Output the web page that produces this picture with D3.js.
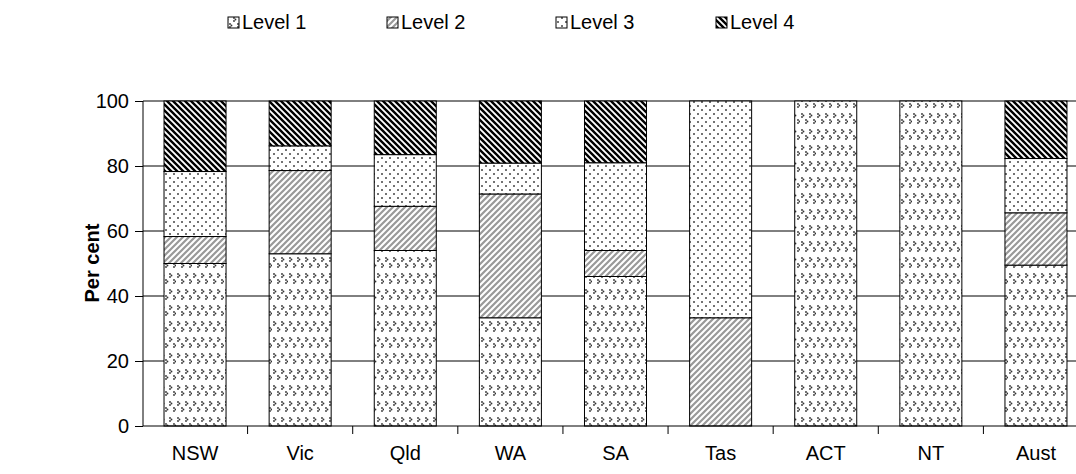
<!DOCTYPE html><html><head><script src="https://cdn.jsdelivr.net/npm/d3@7"></script>
<style>body{margin:0;background:#fff}text{font-family:Arial,"Liberation Sans",sans-serif}</style></head><body>
<svg id="c" width="1076" height="474"></svg>
<script>
const categories=["NSW","Vic","Qld","WA","SA","Tas","ACT","NT","Aust"];
const level1=[50,53,54,33.3,46,0,100,100,49.5];
const level2=[8.3,25.6,13.6,38.1,8,33.3,0,0,16.1];
const level3=[20,7.6,15.9,9.5,27,66.7,0,0,16.7];
const level4=[21.7,13.8,16.5,19.1,19,0,0,0,17.7];
const seriesNames=["Level 1","Level 2","Level 3","Level 4"];
const yTicks=[0,20,40,60,80,100];
const svg=d3.select("#c");
const defs=svg.append("defs");
let p=defs.append("pattern").attr("id","p0").attr("patternUnits","userSpaceOnUse").attr("width",16).attr("height",16);
p.append("rect").attr("width",16).attr("height",16).attr("fill","#fff");
[[2,2],[10,2],[6,8],[14,8]].forEach(([x,y])=>{p.append("circle").attr("cx",x).attr("cy",y).attr("r",0.9).attr("fill","#333");p.append("circle").attr("cx",x+1.5).attr("cy",y+1.5).attr("r",0.9).attr("fill","#333");p.append("circle").attr("cx",x).attr("cy",y+3).attr("r",0.9).attr("fill","#333");});
p=defs.append("pattern").attr("id","p1").attr("patternUnits","userSpaceOnUse").attr("width",6).attr("height",6);
p.append("rect").attr("width",6).attr("height",6).attr("fill","#fff");
p.append("path").attr("d","M-1,7L7,-1M-4,4L4,-4M2,10L10,2").attr("stroke","#999").attr("stroke-width",2.2);
p=defs.append("pattern").attr("id","p2").attr("patternUnits","userSpaceOnUse").attr("width",8).attr("height",8);
p.append("rect").attr("width",8).attr("height",8).attr("fill","#fff");
p.append("circle").attr("cx",2).attr("cy",2).attr("r",1).attr("fill","#444");
p.append("circle").attr("cx",6).attr("cy",6).attr("r",1).attr("fill","#444");
p=defs.append("pattern").attr("id","p3").attr("patternUnits","userSpaceOnUse").attr("width",6).attr("height",6);
p.append("rect").attr("width",6).attr("height",6).attr("fill","#fff");
p.append("path").attr("d","M-1,-1L7,7M-4,2L4,10M2,-4L10,4").attr("stroke","#000").attr("stroke-width",2.4);

const x=d3.scaleBand().domain(categories).range([143,1088]).paddingInner(0.41).paddingOuter(0.2);
const y=d3.scaleLinear().domain([0,100]).range([426,101]);
const g=svg.append("g");
g.selectAll("line.grid").data(yTicks.slice(1)).join("line").attr("x1",143).attr("x2",1076).attr("y1",d=>y(d)).attr("y2",d=>y(d)).attr("stroke","#000").attr("stroke-width",1);
const data=categories.map((c,i)=>({c,Level1:level1[i],Level2:level2[i],Level3:level3[i],Level4:level4[i]}));
const stack=d3.stack().keys(["Level1","Level2","Level3","Level4"])(data);
stack.forEach((s,k)=>{g.selectAll(null).data(s.filter(d=>d[1]-d[0]>0)).join("rect")
 .attr("x",d=>x(d.data.c)).attr("width",x.bandwidth()).attr("y",d=>y(d[1])).attr("height",d=>y(d[0])-y(d[1]))
 .attr("fill",`url(#p${k})`).attr("stroke","#000").attr("stroke-width",1);});
const ya=svg.append("g").attr("transform","translate(143,0)").call(d3.axisLeft(y).tickValues(yTicks).tickSize(8).tickPadding(6));
ya.select(".domain").attr("stroke","#000").attr("d","M0,101V426");
ya.selectAll("text").attr("font-size",20).attr("fill","#000");
const xa=svg.append("g").attr("transform","translate(0,426)").call(d3.axisBottom(x).tickSize(0).tickPadding(20));
xa.select(".domain").attr("d","M143,0H1076");
xa.selectAll("text").attr("font-size",20).attr("fill","#000");
const step=x.step();
categories.forEach((c,i)=>{const xx=x(c)+x.bandwidth()+(step-x.bandwidth())/2; if(xx<1076) svg.append("line").attr("x1",xx).attr("x2",xx).attr("y1",426).attr("y2",434).attr("stroke","#000");});
svg.append("text").attr("transform","translate(99,263) rotate(-90)").attr("text-anchor","middle").attr("font-size",20).attr("font-weight","bold").text("Per cent");
const lx=[228,387,556,716];
seriesNames.forEach((n,i)=>{svg.append("rect").attr("x",lx[i]).attr("y",17).attr("width",11).attr("height",11).attr("fill",`url(#p${i})`).attr("stroke","#000");
 svg.append("text").attr("x",lx[i]+14).attr("y",29).attr("font-size",20).text(n);});
</script></body></html>
